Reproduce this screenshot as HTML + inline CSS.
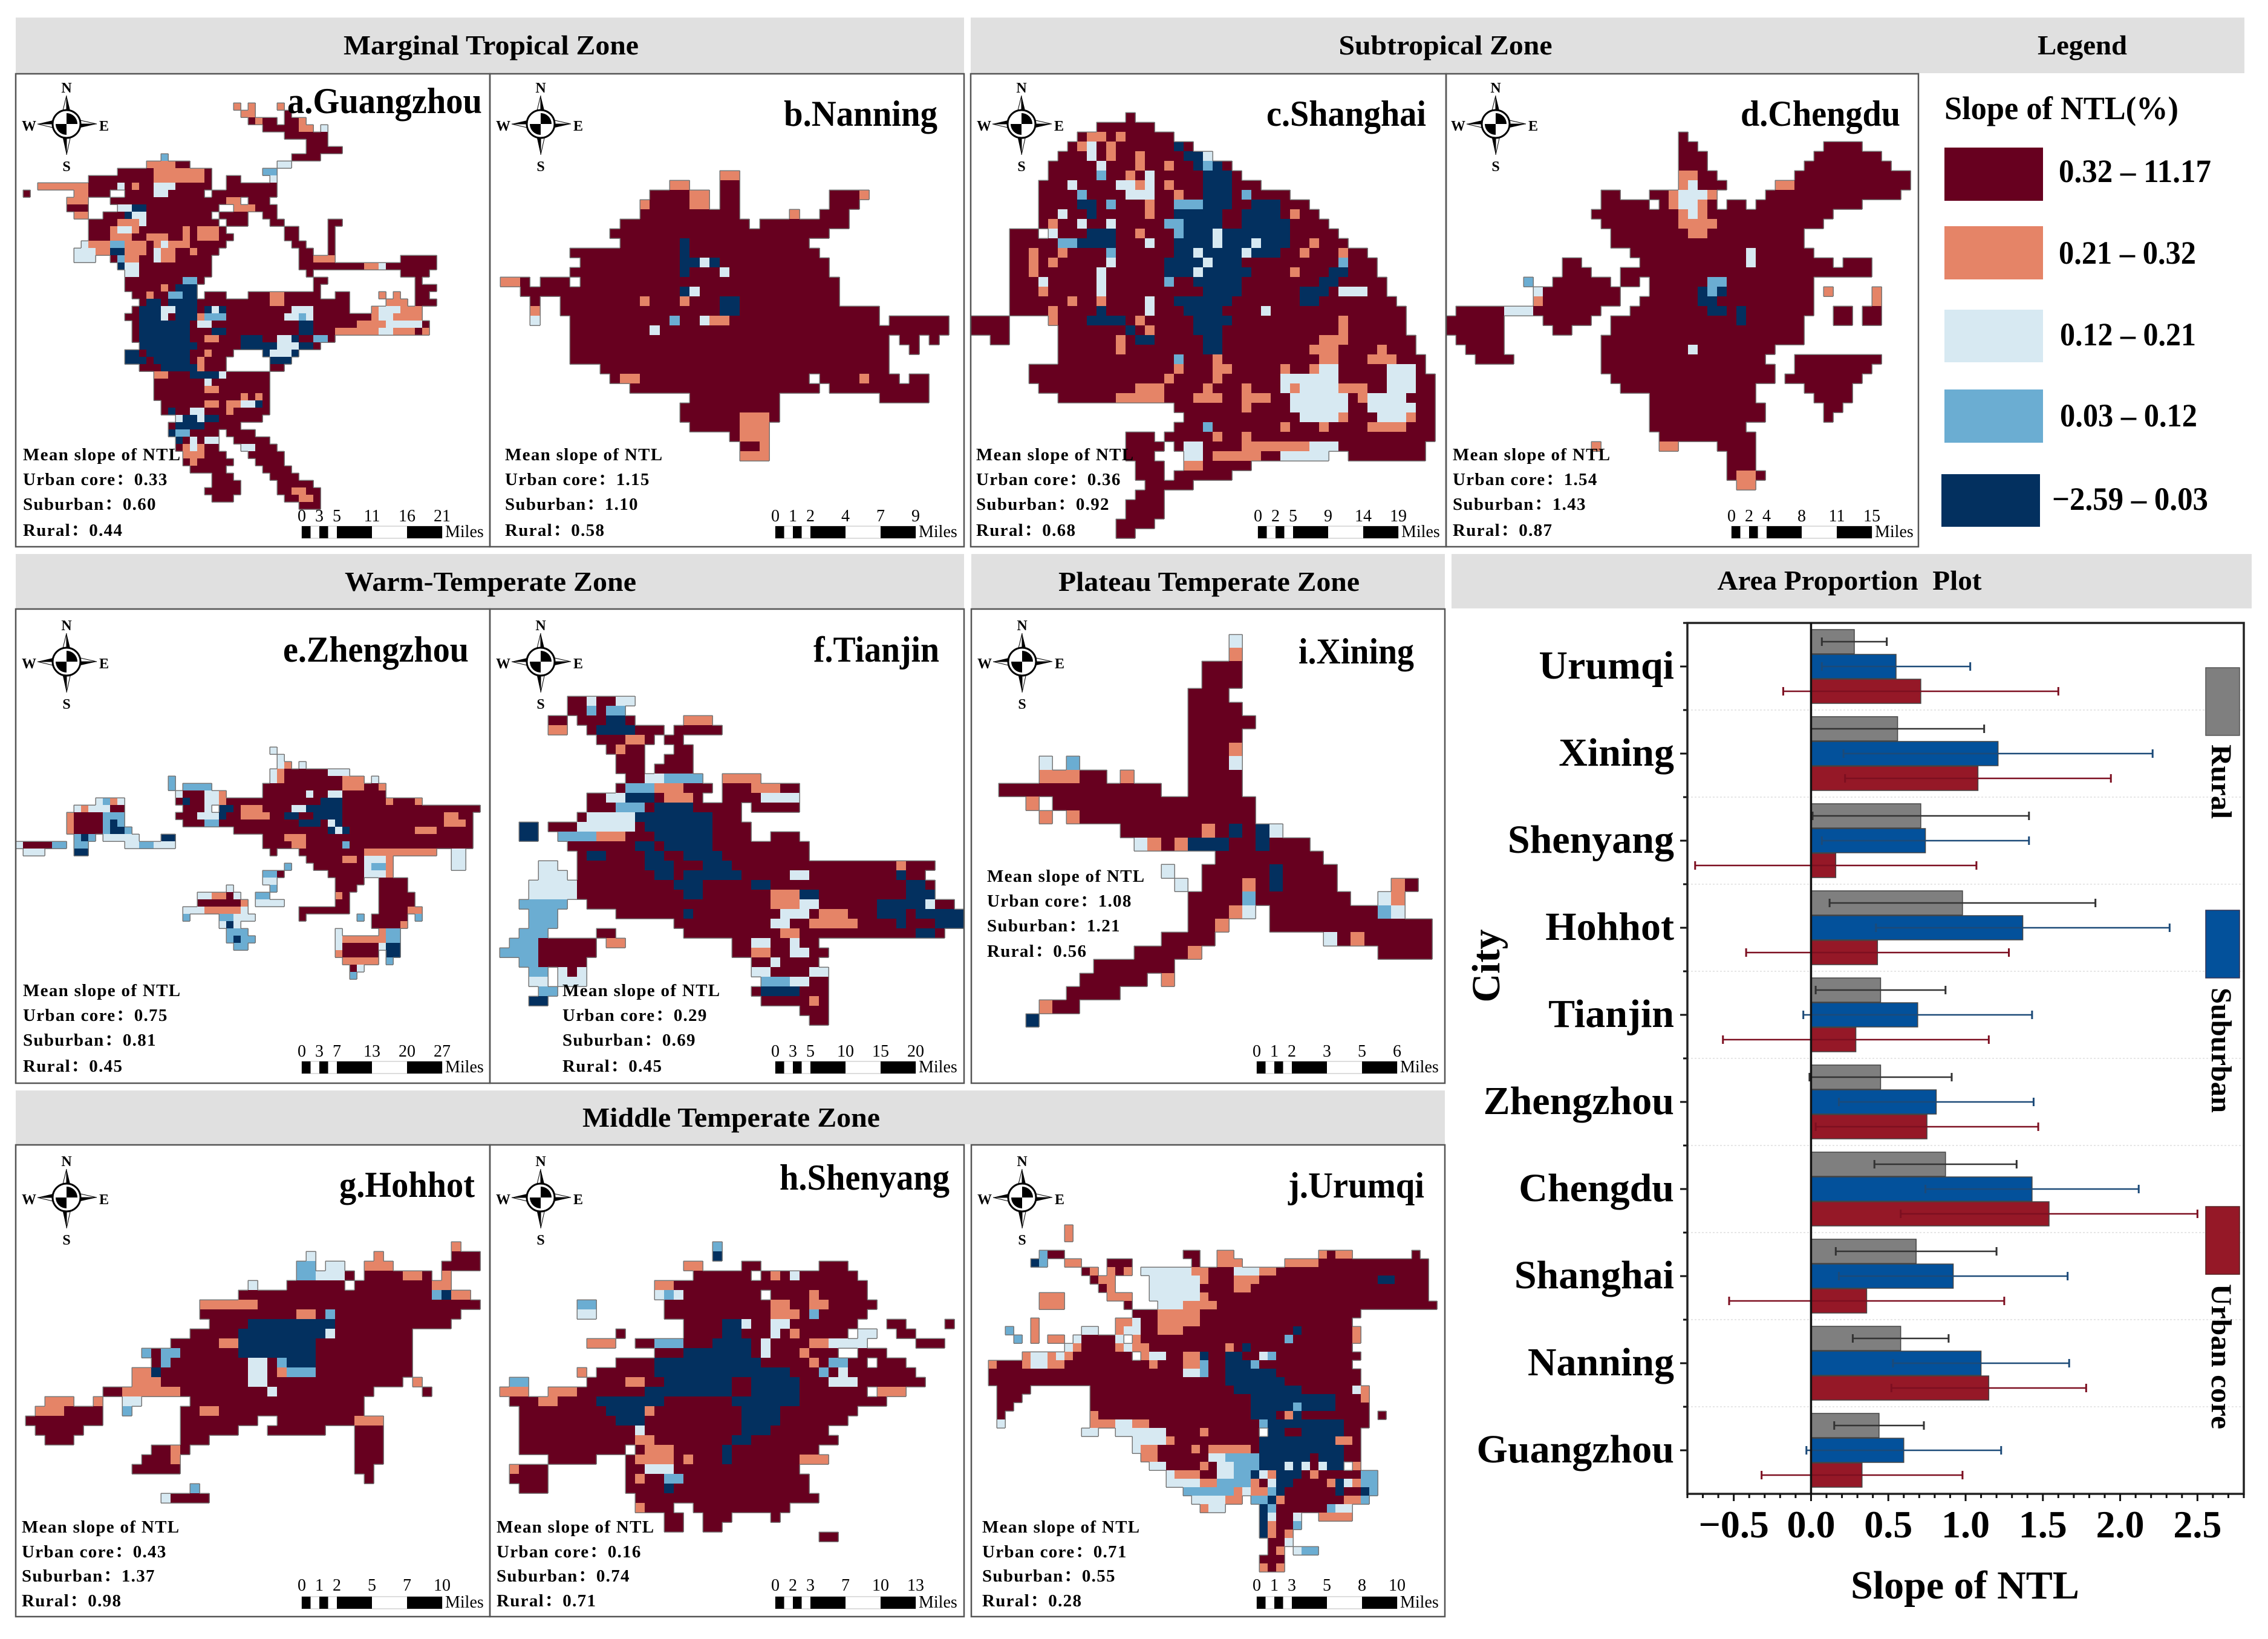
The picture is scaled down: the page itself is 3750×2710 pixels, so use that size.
<!DOCTYPE html>
<html lang="en">
<head>
<meta charset="utf-8">
<title>Slope of NTL by climate zone and city</title>
<style>
html,body{margin:0;padding:0;background:#fff;}
svg{display:block;}
text{font-family:"Liberation Serif","Noto Serif CJK SC",serif;font-weight:bold;fill:#000;}
.hdr{font-size:46px;text-anchor:middle;}
.city{font-size:60px;}
.stat{font-size:29px;letter-spacing:1.3px;}
.sc{font-size:28px;font-weight:normal;text-anchor:middle;}
.mi{font-size:28px;font-weight:normal;}
.cp{font-size:24px;text-anchor:middle;}
.lg{font-size:54px;}
</style>
</head>
<body>
<svg id="figure" xmlns="http://www.w3.org/2000/svg" width="3750" height="2710" viewBox="0 0 3750 2710">
<defs>
<g id="star">
<polygon points="0,-47 -9,-10 0,-10" fill="#fff" stroke="#000" stroke-width="1"/><polygon points="0,-47 9,-10 0,-10" fill="#000"/>
<polygon points="0,51 9,10 0,10" fill="#fff" stroke="#000" stroke-width="1"/><polygon points="0,51 -9,10 0,10" fill="#000"/>
<polygon points="-48,0 -10,-9 -10,0" fill="#000"/><polygon points="-48,0 -10,9 -10,0" fill="#fff" stroke="#000" stroke-width="1"/>
<polygon points="50,0 10,9 10,0" fill="#000"/><polygon points="50,0 10,-9 10,0" fill="#fff" stroke="#000" stroke-width="1"/>
<circle r="23" fill="#fff" stroke="#000" stroke-width="3"/>
<path d="M0,0 L0,-18 A18,18 0 0 1 18,0 Z M0,0 L0,18 A18,18 0 0 1 -18,0 Z" fill="#000"/>
</g>
<g id="sbar">
<rect x="0" y="0" width="232" height="20" fill="#fff" stroke="#bbb" stroke-width="1"/>
<rect x="0" width="14.5" height="20" fill="#000"/><rect x="29" width="14.5" height="20" fill="#000"/><rect x="58" width="58" height="20" fill="#000"/><rect x="174" width="58" height="20" fill="#000"/>
</g>
</defs>
<rect width="3750" height="2710" fill="#fff"/>

<!-- header bands -->
<rect x="26" y="29" width="1568" height="92" fill="#e0e0e0"/>
<rect x="1605" y="29" width="2106" height="92" fill="#e0e0e0"/>
<rect x="26" y="916" width="1568" height="90" fill="#e0e0e0"/>
<rect x="1606" y="916" width="783" height="90" fill="#e0e0e0"/>
<rect x="2400" y="916" width="1323" height="90" fill="#e0e0e0"/>
<rect x="26" y="1803" width="2363" height="89" fill="#e0e0e0"/>

<text class="hdr" x="812" y="90" textLength="488" lengthAdjust="spacingAndGlyphs">Marginal Tropical Zone</text>
<text class="hdr" x="2390" y="90" textLength="353" lengthAdjust="spacingAndGlyphs">Subtropical Zone</text>
<text class="hdr" x="3443" y="90" textLength="148" lengthAdjust="spacingAndGlyphs">Legend</text>
<text class="hdr" x="811" y="977" textLength="482" lengthAdjust="spacingAndGlyphs">Warm-Temperate Zone</text>
<text class="hdr" x="1999" y="977" textLength="498" lengthAdjust="spacingAndGlyphs">Plateau Temperate Zone</text>
<text class="hdr" x="3058" y="975" textLength="437" lengthAdjust="spacingAndGlyphs" xml:space="preserve">Area Proportion  Plot</text>
<text class="hdr" x="1209" y="1863" textLength="492" lengthAdjust="spacingAndGlyphs">Middle Temperate Zone</text>

<g id="maps"></g>

<!-- panel frames -->
<g fill="none" stroke="#555" stroke-width="2.5">
<rect x="26" y="122" width="784" height="782"/>
<rect x="810" y="122" width="784" height="782"/>
<rect x="1605" y="122" width="786" height="782"/>
<rect x="2391" y="122" width="781" height="782"/>
<rect x="26" y="1007" width="784" height="784"/>
<rect x="810" y="1007" width="784" height="784"/>
<rect x="1606" y="1007" width="783" height="784"/>
<rect x="26" y="1893" width="784" height="780"/>
<rect x="810" y="1893" width="784" height="780"/>
<rect x="1606" y="1893" width="783" height="780"/>
</g>

<!-- city titles -->
<text class="city" x="475" y="187" textLength="322" lengthAdjust="spacingAndGlyphs">a.Guangzhou</text>
<text class="city" x="1296" y="208" textLength="254" lengthAdjust="spacingAndGlyphs">b.Nanning</text>
<text class="city" x="2094" y="208" textLength="264" lengthAdjust="spacingAndGlyphs">c.Shanghai</text>
<text class="city" x="2878" y="208" textLength="264" lengthAdjust="spacingAndGlyphs">d.Chengdu</text>
<text class="city" x="468" y="1094" textLength="307" lengthAdjust="spacingAndGlyphs">e.Zhengzhou</text>
<text class="city" x="1345" y="1094" textLength="208" lengthAdjust="spacingAndGlyphs">f.Tianjin</text>
<text class="city" x="2147" y="1097" textLength="191" lengthAdjust="spacingAndGlyphs">i.Xining</text>
<text class="city" x="561" y="1979" textLength="224" lengthAdjust="spacingAndGlyphs">g.Hohhot</text>
<text class="city" x="1289" y="1967" textLength="281" lengthAdjust="spacingAndGlyphs">h.Shenyang</text>
<text class="city" x="2130" y="1980" textLength="225" lengthAdjust="spacingAndGlyphs">j.Urumqi</text>

<!-- stats -->
<g>
<text class="stat" x="38" y="761">Mean slope of NTL</text>
<text class="stat" x="38" y="802">Urban core：0.33</text>
<text class="stat" x="38" y="843">Suburban：0.60</text>
<text class="stat" x="38" y="886">Rural：0.44</text></g>
<g>
<text class="stat" x="835" y="761">Mean slope of NTL</text>
<text class="stat" x="835" y="802">Urban core：1.15</text>
<text class="stat" x="835" y="843">Suburban：1.10</text>
<text class="stat" x="835" y="886">Rural：0.58</text></g>
<g>
<text class="stat" x="1614" y="761">Mean slope of NTL</text>
<text class="stat" x="1614" y="802">Urban core：0.36</text>
<text class="stat" x="1614" y="843">Suburban：0.92</text>
<text class="stat" x="1614" y="886">Rural：0.68</text></g>
<g>
<text class="stat" x="2402" y="761">Mean slope of NTL</text>
<text class="stat" x="2402" y="802">Urban core：1.54</text>
<text class="stat" x="2402" y="843">Suburban：1.43</text>
<text class="stat" x="2402" y="886">Rural：0.87</text></g>
<g>
<text class="stat" x="38" y="1647">Mean slope of NTL</text>
<text class="stat" x="38" y="1688">Urban core：0.75</text>
<text class="stat" x="38" y="1729">Suburban：0.81</text>
<text class="stat" x="38" y="1772">Rural：0.45</text></g>
<g>
<text class="stat" x="930" y="1647">Mean slope of NTL</text>
<text class="stat" x="930" y="1688">Urban core：0.29</text>
<text class="stat" x="930" y="1729">Suburban：0.69</text>
<text class="stat" x="930" y="1772">Rural：0.45</text></g>
<g>
<text class="stat" x="1632" y="1458">Mean slope of NTL</text>
<text class="stat" x="1632" y="1499">Urban core：1.08</text>
<text class="stat" x="1632" y="1540">Suburban：1.21</text>
<text class="stat" x="1632" y="1582">Rural：0.56</text></g>
<g>
<text class="stat" x="36" y="2534">Mean slope of NTL</text>
<text class="stat" x="36" y="2575">Urban core：0.43</text>
<text class="stat" x="36" y="2615">Suburban：1.37</text>
<text class="stat" x="36" y="2656">Rural：0.98</text></g>
<g>
<text class="stat" x="821" y="2534">Mean slope of NTL</text>
<text class="stat" x="821" y="2575">Urban core：0.16</text>
<text class="stat" x="821" y="2615">Suburban：0.74</text>
<text class="stat" x="821" y="2656">Rural：0.71</text></g>
<g>
<text class="stat" x="1624" y="2534">Mean slope of NTL</text>
<text class="stat" x="1624" y="2575">Urban core：0.71</text>
<text class="stat" x="1624" y="2615">Suburban：0.55</text>
<text class="stat" x="1624" y="2656">Rural：0.28</text></g>

<!-- compasses -->
<g transform="translate(110,205)"><use href="#star"/><text class="cp" y="-52">N</text><text class="cp" y="78">S</text><text class="cp" x="-62" y="11">W</text><text class="cp" x="62" y="11">E</text></g>
<g transform="translate(894,205)"><use href="#star"/><text class="cp" y="-52">N</text><text class="cp" y="78">S</text><text class="cp" x="-62" y="11">W</text><text class="cp" x="62" y="11">E</text></g>
<g transform="translate(1689,205)"><use href="#star"/><text class="cp" y="-52">N</text><text class="cp" y="78">S</text><text class="cp" x="-62" y="11">W</text><text class="cp" x="62" y="11">E</text></g>
<g transform="translate(2473,205)"><use href="#star"/><text class="cp" y="-52">N</text><text class="cp" y="78">S</text><text class="cp" x="-62" y="11">W</text><text class="cp" x="62" y="11">E</text></g>
<g transform="translate(110,1094)"><use href="#star"/><text class="cp" y="-52">N</text><text class="cp" y="78">S</text><text class="cp" x="-62" y="11">W</text><text class="cp" x="62" y="11">E</text></g>
<g transform="translate(894,1094)"><use href="#star"/><text class="cp" y="-52">N</text><text class="cp" y="78">S</text><text class="cp" x="-62" y="11">W</text><text class="cp" x="62" y="11">E</text></g>
<g transform="translate(1690,1094)"><use href="#star"/><text class="cp" y="-52">N</text><text class="cp" y="78">S</text><text class="cp" x="-62" y="11">W</text><text class="cp" x="62" y="11">E</text></g>
<g transform="translate(110,1980)"><use href="#star"/><text class="cp" y="-52">N</text><text class="cp" y="78">S</text><text class="cp" x="-62" y="11">W</text><text class="cp" x="62" y="11">E</text></g>
<g transform="translate(894,1980)"><use href="#star"/><text class="cp" y="-52">N</text><text class="cp" y="78">S</text><text class="cp" x="-62" y="11">W</text><text class="cp" x="62" y="11">E</text></g>
<g transform="translate(1690,1980)"><use href="#star"/><text class="cp" y="-52">N</text><text class="cp" y="78">S</text><text class="cp" x="-62" y="11">W</text><text class="cp" x="62" y="11">E</text></g>

<!-- scale bars -->
<g transform="translate(499,870)"><use href="#sbar"/><text class="sc" x="0" y="-8">0</text><text class="sc" x="29" y="-8">3</text><text class="sc" x="58" y="-8">5</text><text class="sc" x="116" y="-8">11</text><text class="sc" x="174" y="-8">16</text><text class="sc" x="232" y="-8">21</text><text class="mi" x="237" y="18">Miles</text></g>
<g transform="translate(1282,870)"><use href="#sbar"/><text class="sc" x="0" y="-8">0</text><text class="sc" x="29" y="-8">1</text><text class="sc" x="58" y="-8">2</text><text class="sc" x="116" y="-8">4</text><text class="sc" x="174" y="-8">7</text><text class="sc" x="232" y="-8">9</text><text class="mi" x="237" y="18">Miles</text></g>
<g transform="translate(2080,870)"><use href="#sbar"/><text class="sc" x="0" y="-8">0</text><text class="sc" x="29" y="-8">2</text><text class="sc" x="58" y="-8">5</text><text class="sc" x="116" y="-8">9</text><text class="sc" x="174" y="-8">14</text><text class="sc" x="232" y="-8">19</text><text class="mi" x="237" y="18">Miles</text></g>
<g transform="translate(2863,870)"><use href="#sbar"/><text class="sc" x="0" y="-8">0</text><text class="sc" x="29" y="-8">2</text><text class="sc" x="58" y="-8">4</text><text class="sc" x="116" y="-8">8</text><text class="sc" x="174" y="-8">11</text><text class="sc" x="232" y="-8">15</text><text class="mi" x="237" y="18">Miles</text></g>
<g transform="translate(499,1755)"><use href="#sbar"/><text class="sc" x="0" y="-8">0</text><text class="sc" x="29" y="-8">3</text><text class="sc" x="58" y="-8">7</text><text class="sc" x="116" y="-8">13</text><text class="sc" x="174" y="-8">20</text><text class="sc" x="232" y="-8">27</text><text class="mi" x="237" y="18">Miles</text></g>
<g transform="translate(1282,1755)"><use href="#sbar"/><text class="sc" x="0" y="-8">0</text><text class="sc" x="29" y="-8">3</text><text class="sc" x="58" y="-8">5</text><text class="sc" x="116" y="-8">10</text><text class="sc" x="174" y="-8">15</text><text class="sc" x="232" y="-8">20</text><text class="mi" x="237" y="18">Miles</text></g>
<g transform="translate(2078,1755)"><use href="#sbar"/><text class="sc" x="0" y="-8">0</text><text class="sc" x="29" y="-8">1</text><text class="sc" x="58" y="-8">2</text><text class="sc" x="116" y="-8">3</text><text class="sc" x="174" y="-8">5</text><text class="sc" x="232" y="-8">6</text><text class="mi" x="237" y="18">Miles</text></g>
<g transform="translate(499,2640)"><use href="#sbar"/><text class="sc" x="0" y="-10">0</text><text class="sc" x="29" y="-10">1</text><text class="sc" x="58" y="-10">2</text><text class="sc" x="116" y="-10">5</text><text class="sc" x="174" y="-10">7</text><text class="sc" x="232" y="-10">10</text><text class="mi" x="237" y="18">Miles</text></g>
<g transform="translate(1282,2640)"><use href="#sbar"/><text class="sc" x="0" y="-10">0</text><text class="sc" x="29" y="-10">2</text><text class="sc" x="58" y="-10">3</text><text class="sc" x="116" y="-10">7</text><text class="sc" x="174" y="-10">10</text><text class="sc" x="232" y="-10">13</text><text class="mi" x="237" y="18">Miles</text></g>
<g transform="translate(2078,2640)"><use href="#sbar"/><text class="sc" x="0" y="-10">0</text><text class="sc" x="29" y="-10">1</text><text class="sc" x="58" y="-10">3</text><text class="sc" x="116" y="-10">5</text><text class="sc" x="174" y="-10">8</text><text class="sc" x="232" y="-10">10</text><text class="mi" x="237" y="18">Miles</text></g>

<!-- map legend -->
<text class="lg" x="3215" y="197" textLength="387" lengthAdjust="spacingAndGlyphs">Slope of NTL(%)</text>
<rect x="3215" y="244" width="163" height="88" fill="#67001f"/>
<rect x="3215" y="374" width="163" height="88" fill="#e58467"/>
<rect x="3215" y="512" width="163" height="87" fill="#d7e9f2"/>
<rect x="3215" y="644" width="163" height="88" fill="#6badd2"/>
<rect x="3210" y="784" width="163" height="87" fill="#03305f"/>
<text class="lg" x="3404" y="301" textLength="252" lengthAdjust="spacingAndGlyphs">0.32 – 11.17</text>
<text class="lg" x="3404" y="436" textLength="227" lengthAdjust="spacingAndGlyphs">0.21 – 0.32</text>
<text class="lg" x="3406" y="571" textLength="225" lengthAdjust="spacingAndGlyphs">0.12 – 0.21</text>
<text class="lg" x="3406" y="705" textLength="227" lengthAdjust="spacingAndGlyphs">0.03 – 0.12</text>
<text class="lg" x="3393" y="843" textLength="258" lengthAdjust="spacingAndGlyphs">−2.59 – 0.03</text>

<!-- bar chart -->
<g id="chart"></g>
<text x="3249" y="2643" font-size="66" text-anchor="middle">Slope of NTL</text>
<text transform="translate(2479,1597) rotate(-90)" font-size="66" text-anchor="middle">City</text>
<rect x="3647" y="1104" width="56" height="112" fill="#7f7f7f" stroke="#555" stroke-width="1.5"/>
<rect x="3647" y="1505" width="56" height="112" fill="#03519b" stroke="#335" stroke-width="1.5"/>
<rect x="3647" y="1995" width="56" height="112" fill="#951827" stroke="#522" stroke-width="1.5"/>
<text transform="translate(3657,1231) rotate(90)" font-size="48" textLength="123" lengthAdjust="spacingAndGlyphs">Rural</text>
<text transform="translate(3657,1633) rotate(90)" font-size="48" textLength="207" lengthAdjust="spacingAndGlyphs">Suburban</text>
<text transform="translate(3657,2123) rotate(90)" font-size="48" textLength="240" lengthAdjust="spacingAndGlyphs">Urban core</text>
</svg>

<script>
// ---------- bar chart data ----------
const cities = ["Urumqi","Xining","Shenyang","Hohhot","Tianjin","Zhengzhou","Chengdu","Shanghai","Nanning","Guangzhou"];
const ruralValues = [0.28,0.56,0.71,0.98,0.45,0.45,0.87,0.68,0.58,0.44];
const suburbanValues = [0.55,1.21,0.74,1.37,0.69,0.81,1.43,0.92,1.10,0.60];
const urbanValues = [0.71,1.08,0.16,0.43,0.29,0.75,1.54,0.36,1.15,0.33];
const ruralErrors = [0.21,0.56,0.70,0.86,0.42,0.46,0.46,0.52,0.31,0.29];
const suburbanErrors = [0.48,1.00,0.67,0.95,0.74,0.63,0.69,0.74,0.57,0.63];
const urbanErrors = [0.89,0.86,0.91,0.85,0.86,0.72,0.96,0.89,0.63,0.65];
const xTickValues = [-0.5,0,0.5,1,1.5,2,2.5];
const xTickLabels = ["−0.5","0.0","0.5","1.0","1.5","2.0","2.5"];

// ---------- map grids: each row lists column spans with a class; later spans overwrite earlier ones ----------
// # 0.32–11.17   o 0.21–0.32   l 0.12–0.21   m 0.03–0.12   n −2.59–0.03
const gridGuangzhou = [
"30o 32o 36o","31o 32o 37#","32-35# 33o 37-38# 39o","34-36# 37-38# 39-40o 42l","37-38# 39-42#","40-42#","40-43# 44#","38-39# 40-41# 20m",
"18-23# 18-21o 36-37l","14-26# 19-21o 22-25o 34-35m","10-26# 19-21o 22-25o 29-30# 35l","3-9o 10-26# 14l 16o 19-20o 19-21l 29-33# 34-35#",
"1# 8-9o 10-12# 15-25# 19-20l 27-35#","7-9o 13-25# 26-28# 29-30o 32-34#","7-9# 14-26# 15-17n 14-15l 26-27# 30-32o 33-35#","8-9o 12-26# 15-17n 16-17l 28-31# 34-35#",
"10-27# 16-17l 14-16o 29-31# 35-36# 43-44#","10-28# 13-16o 14-15l 23o 25-27o 37-38# 43#","10-29# 13-15o 18-20o 23o 25-27o 37-38# 43#","9l 10-28# 10-14o 13-14m 15-17o 19-22o 20l 23o 38-39# 43#",
"8-10l 11-12o 13-27# 13-15n 15-17o 19-21o 19l 24o 39-40# 43#","8-10l 13-26# 14-15m 15-16o 19-20l 20-21o 39-43# 41-43o 53-57#","14-26# 14-15n 15-16l 39-41# 42-43# 44-52# 48-49o 50l 53-57#","15-26# 15-16l 40# 53-56#",
"15-25# 23-24m 41-42# 55#","15-24# 20o 22-24n 41# 55-56# 57#","16-24# 18o 21-24m 23-24n 26-28# 32-41# 35-36o 44-45# 50o 52o 55-56#","17-45# 18-19n 21-24n 35-36o 51-53o 55-57#",
"16-45# 17-19n 20-21l 22-24n 26-28n 27l 38-39l 39-40l 49-55o 50-52l","15-48# 17-19n 20l 22-24n 25o 26-28m 37-40l 39m 49-55o 50-51l 53-54o","16-56# 17-19n 20-23n 25-26l 39-40n 47-48o 49-52o 51-52l 53-55l","16-47# 17-20n 21-23n 27-28n 39-40n 44-47o 48-56o 50-51l 55#",
"16-43# 17-21n 22-23n 26-27o 31-33n 36-38l 38n 41-42m","17-41# 17-22n 23-24n 31-35n 36-38l 39-40n","15-29# 15-16n 18-23n 26o 34-38n 35-37l","15-28# 15-17n 19-23n 25o 35-37n",
"17-28# 20-24n 25o 35-36#","19-34# 19-20o 24-25n 26-28l 26-27n","19-34# 26l","19-34# 26-27o","19-34# 31o 33o","20-34# 26-27o 29-32l 29-30o 33n","20-34# 21n 24-25l 29o",
"22-33# 22-25l 23-24n 26-27n","21-30# 22-24n 25n","21-27# 21n 22-23m 29-32#","22-27# 22n 24l 26-27l 30-34#","22-27# 23-25o 24l 31-35# 31-32l","23-28# 23-25o 32-36#","23-29# 24o 33-36#","24-28# 34-37#",
"27-29# 35-38#","27-30# 36-40#","26-30# 36-41# 38-39o","27-29# 37-41# 39-40o","39-41#"];

const gridNanning = [
"23-24o","18-19o 23-24#","16-19# 20-21o 23-24# 34-36# 37o","15-20# 15o 20-21o 23-24# 34-36#","15-21# 22-24# 30o 33-35#",
"13-21# 22-25# 27-28# 28-35#","12-33# 26#","13-31# 19n","9-32# 19n 8-8#","9-33# 19-20n 21l 22n","8-33# 19n 23l",
"1-2o 3# 5-7# 9-34#","3-7# 8-34# 19n 20l","4# 7-34# 15o 19o 23-24n","4o 7-38# 23-24n","4l 8-38# 40-45# 18m 21l 22-23o",
"8-45# 16l","8-39# 41-42# 44#","8-39# 42#","8-39#","11-39#","12-31# 33-40# 13-14o 37o 42-43#","14-32# 34-43#","20-28# 39-43#",
"19-28#","19-20# 21-28# 25-27o","20-27# 25-27o","24-27# 25-27o","25-27o 25-26#","25-27o"];

const gridShanghai = [
"16#","13-18#","11-20# 12-13o 15o","10-22# 11-12o 12l 14o 21n","9-24# 12l 14o 17o 22-23n 24l","8-26# 13l 17o 20o 23-25n 24m",
"8-27# 13m 16o 18l 24-26n","7-29# 10l 15-18l 17o 20o 24-26n","7-32# 11m 16-18l 21o 24-26n 28m","7-34# 11-12n 14m 18o 21-23m 24-26n 29-31n",
"7-35# 9l 12n 18o 21-25n 28-31n 33o","7-36# 8o 11l 14l 20-21m 22-25n 28-32n","4-6# 8-37# 8l 12-14n 17o 21m 22-32n 25l",
"4-38# 9-10m 11-14n 18l 21-32n 25l 29l 35o","4-40# 6o 9o 14m 21-31n 23l 28l 34o 38o","4-41# 6o 8o 14l 20-27n 24l 38m",
"4-41# 6o 13l 20-28n 23l 33o 37-38n","4-42# 7l 13l 20m 23-27n 36-37n","4-42# 7o 13l 24-27n 34-36n 38-40l","4-43# 10o 13o 18l 21-26n 34-35n",
"4-44# 8o 13n 18l 22-25n 30l","0-3# 8-44# 8o 12-15n 17o 23-26n 38o","0-3# 9-44# 16n 18o 23-25n 38o","2-3# 9-45# 15o 17-18n 24-25n 36-38o",
"9-45# 15o 24-25n 35-37o 42o","9-46# 21m 25o 36-37o 41-43o","6-8# 9-46# 21o 25-26o 32o 35-36o 36-37l 43-45l","6-47# 20o 25o 32-35l 35-37l 43-45l",
"7-47# 17-19o 24o 28o 32-37l 33o 38-40o 43-45l","9-47# 15-19o 23-25o 33-38l 40-41o 41-44l 28-30o","21-47# 28o 33-38l 41-45l","22-47# 34-37l 38o 42-45l 45o",
"21-47# 24m 32o 36o 41-44o","20-47# 16-18# 25o 28o","16-19# 21-34# 22-23l 28-32o 33-34o 35-37l 38-46# ","16-18# 22-31# 22-23l 25-29o 32-36l 39-46#",
"17-19# 22-28# 22-23o","17-19# 21-26#","18-19# 20-22#","17-19#","16-19#","16-19#","15-18#","15-16#"];

const gridChengdu = [
"24#","24-25# 39-42#","24-26# 38-44#","24-26# 37-45#","24-27# 24-25o 36-47#","24-28# 24-25o 25l 34-47# 34-35o","16-17# 21-22# 23-27o 24-26l 33-46#",
"16-20# 22-27# 23-26o 24-25l 29-30# 32-42#","15-39# 24-26o 25l","16-38# 24-27o","17-36# 25-26o","17-36#","19-37# 31l","12-13# 20-37# 31l 38-39# 41-43#",
"12-14# 18-19# 20-38# 39-43#","8m 11-16# 18-19# 21-37# 27-28m","9l 10-17# 21-37# 26n 27m 28n 39o 44o","9o 10-17# 20-37# 26-27n 44o",
"1-5# 6-8l 9-15# 19-37# 27-28n 30n 40-41# 43-44#","0-5# 10-14# 17-36# 30n 40-41# 43-44#","0-5# 11-12# 17-36#","1-5# 16-36#","2-5# 16-33# 25l",
"3-6# 16-32# 36-44#","16-33# 36-43#","17-33# 35-42#","18-31# 37-41#","21-31# 38-41#","21-32# 39-40#","21-32# 39#","21-30#","22-26# 27-31#",
"15o 22-23o 28-31#","29-31#","29-31#","29-32# 30-31o","30-31o"];

const gridZhengzhou = [
"35l","36l","36-37l 37o 39l","35-36l 36o 37-44# 43-45l","21m 35l 36o 37-46# 45-47o 49l","21m 23-26m 34-49# 45-47o 50o","22-25# 22l 26-27l 28o 34-50# 40l 43-44l",
"11-14l 12m 13o 22-25# 23n 26-27l 28o 29-33# 34-51# 42-44n 51o 52-54# 55o","8-12l 9o 13-14# 23-25# 26l 28-29n 30-63# 31-33o 40-44n 38-39l",
"7o 8-11# 12-14m 22-25# 25-27l 28n 29-62# 31-34o 37-38n 41-44n 59-60o","7o 8-11# 12-14m 13n 23-25# 26-27m 28# 29-62# 39-40n 41n 43l 44n 59-61o","7o 8-11# 12-15m 13-14n 30-62# 41-42# 43-45n 44l 55-57o",
"8-10m 9n 12-16l 20-21n 34-62# 37-39o","0-4l 1-4# 5-6m 8-9m 15-21l 17-18m 34-62# 38-39o 45m","1-3l 8-9n 35# 39-47# 48-50o 51-52o 53-57o 60-61l","40-47# 45-46o 48-51l 51o 60-61l",
"37m 41-47# 48-50l 49-50m 51o 60-61l","34-35m 36# 43-47# 48-50l 51o","34-35l 44-47# 50-53#","29l 35m 44-46# 50-53#","25-30l 27-29o 29# 33-34m 44-45o 45# 50-54#","25-30# 31o 33-36l 44-45# 50-54#",
"23-31l 26-30o 27-28o 39-45# 50-53# 54-55o","23m 28-29m 30-32l 39# 47m 49-53# 55m","28-30l 29n 49-52# 53o","29-31m 44l 50-51o 51m 52m","29-32m 30n 44-45l 45-49o 50o 51-52m","30-31m 44-45l 45-49# 50l 51-52n",
"44-45o 45-49# 51-52n","45o 46-49o 51m","46# 47l","46m"];

const gridTianjin = [
"8-14# 10l 13-14l","8-13# 10m 12-13m","6-7# 9-14# 12-13n 20-22o","6-7o 10-17# 11-14n 19-23#","11-16# 14-15o 18-19#","12-15# 13o 19-20#","13-15# 18-20#","13-15# 17-20#",
"14-21# 18-21m 16-17l 24-27o","13-22# 14-16m 17-19o 24-31# 27-29o","10-21# 14-16n 12-13l 18-20o 24-31l 24-27#","10-25# 13-15m 17-20n 27-31#","9-25# 10-14l 15-22n",
"3-4n 6-26# 9-14l 16-22n","3-4n 7-26# 7-10m 11-13o 17-22n 29-31#","8-32# 15-16n 18-22n","9-32# 10-11n 16-17n 20-23n","5-6l 9-45# 16-18n 22-24n 42o","5-7l 9-44# 17-18n 20-25n 31-32l 42n",
"4-8l 9-45# 19-21n 27-28n 43-44n","4-8l 9-45# 20-21n 29-31o 32-33n 43-45n","3-7m 10-47# 29-31o 32-33l 40-44n 45l","4-6m 13-48# 20n 30-32l 34-36o 40-42n 44-48n","4-6m 19-48# 29-30l 33-37o 42n 46-48n",
"3-5m 11-12# 20-46# 30-31o 44-45n","2-5m 5-10# 12-13o 25-33# 27-28l 31l","1-4m 5-10# 25-34# 27-28o 31-32l","3-4m 5-9# 27-33# 28-31# 29l","4-5m 7-9l 8# 27-34l 29-32#","4-5l 7-9l 28-34# 28-30m 31-32l",
"5-6m 27-34# 28-31n","4-5n 28-34# 33o","32-34#","33-34#"];

const gridXining = [
"19l","19o","17-19#","17-19#","16-18#","16-19#","16-20#","16-19#","16-18# 19o","5l 7m 16-18# 19l","5-7o 8-9# 11o 16-19#","2-13# 16-19#","4o 6-20#","5o 7o 8-20#",
"11-20# 17o 19n 21n 22l","12l 13o 14# 15o 16-18n 19-20# 21n 22-24#","18-25#","14l 17-21# 22n 23-26#","15l 17-19# 20o 21# 22n 23-26# 31o 32#","16-19# 20m 21-27# 30l 31o",
"16-18# 19o 20l 22-29# 30m 31l","16-17# 18o 22-33#","14-17# 26l 27-33# 28o","12-15# 16o 30-33#","9-14#","8-12# 14o","7-10#","5o 6-7#","4n"];

const gridHohhot = [
"45o","30l 37o 45-47#","29-30m 32-33l 36-38o 44-47#","29-30m 31-33l 34# 36-39# 40-41o 42# 44o","24l 28-33# 35-42# 43-44o","23-33# 34-42# 43m 44n 45-46o","19-22o 23-45# 23-24o 46-47#",
"19-40# 29-30o 32m 41-45#","20-41# 24-32n 42-44#","18-40# 23-32n 32l","16-40# 23-28n 21-22o 29-30n","13m 14-40# 15-16m 23-27n 28-30n","14-40# 15m 24-25l 27-28m 28-30n","12-13o 14-40# 14n 24-25l 28-30m 27o",
"12-14o 15-39# 24-25l 41o","9-11# 11-16o 17-36# 26l 42#","3-5o 8o 11-12l 18-35#","2-8# 2-4o 6-7# 11m 17-35# 19-20o","1-8# 17-24# 27-35# 35-37o","2-6# 17-22# 26-31# 35-37#","3-5# 17-19# 35-37#",
"14-17# 16o 35-37#","13-16# 16o 35-37#","12-16# 35-36#","36#","18m","15-19# 15l"];

const gridShenyang = [
"23m","23n","20-21o 26-27# 34-36#","21-26# 28-37# 29o 31l","17-18o 19-27# 28-38#","17-19l 18m 20-27# 29-38# 33o","9-10m 18-28# 29-39# 29-30o 33-34o","9-10l 18-38# 29-31o 33m",
"20-37# 24-25n 26l 29-30l 41-42# 47#","13# 20-36# 24-25n 29l 31o 38-39l 42-43#","10-12o 15-16# 17-20m 20-36# 23-26n 28l 33-34o 35-38l 44-46#","17-35# 20-26n 28l 32o 38-40#","14# 13-38# 17-27n 33o 35-36m 40-42#",
"9o 11-14# 13-43# 17-26n 27-30n 34m 36l","2-3m 10-44# 14-15o 18-24n 27-31n 35-37l","1-3o 6-8o 9-38# 16-24n 27-31n 40-42o","2-40# 5-6o 11-17n 25-31n","3-37# 12-16n 26-29n 16o",
"3-36# 13-15n 26-29n","3-34# 26-28n 15l","3-14# 15-35# 15-16o 25-26n","3-13# 15-33# 16-18o 24n","6-10# 14-31# 15-18o 24n 20o 32-34o","2-5# 2o 14-31# 16-18l","2-5# 14-32# 18-19m 15o","3-5# 14-32# 18n",
"15-33#","15-18# 15o 21-26# 27-30#","18-19# 22-24# 29#","18-19# 22-23#","34-35#"];

const gridUrumqi = [
"11o","11o","","8m 9-10# 25-26# 29-30o 41-44o 42# 52#","7n 8m 11-12o 16-18# 26# 29-31o 37-40o 41-53#","13# 14o 16o 17# 18o 20-26l 26-27o 28-30# 31-33l 34-36o 36-53#",
"14# 15-16o 21-26l 27o 28-30# 31-33o 34-53# 48-49n","15# 16o 21-26l 27# 28-30# 31-32o 33-53#","8-10o 16-18o 21-26l 27o 28-53#","8-10o 18# 22-24l 25-28o 29-54#","19-21# 22-23o 24-26o 27-45#",
"7o 17-18o 19l 20-21# 22-26o 27-44#","4m 7o 13-14l 17-18o 18-19l 20-24# 22-24o 25-44# 38n 45o","5m 7o 9-10o 12l 13-16# 17l 19o 20-44# 37m 45o","11l 12o 13-16# 17o 18l 19-20o 21-44# 30o 32n",
"6o 7-8l 9o 10l 11o 12-18# 20o 21-22l 23-45# 25-26o 27n 30-31n 34-34l 35m","2o 3-5# 6o 7-8l 9-10o 11-44# 21o 25-26o 27m 30-33n 33m","2-45# 25-26l 27m 30-35n","2-45# 30-36n","3-6# 14-45# 31-38n 45l 46o",
"3-5# 14-46# 33-41n 42n 46o","3-4# 14-46# 33-37n 38m 39-42n","3# 14-46# 14o 33-35n 37o 38n 48#","3l 14-16o 17-18l 19-20o 21-33# 34m 35-43n 44-46#","13-14l 17-22l 23-33# 27o 35-43n 37-38# 44-45#",
"19-22l 23o 24-33# 34-43n 43-44o 45#","19l 20-21o 22-27# 26o 28-32o 33# 34-43n 44-45#","20-21o 22-28# 28-30l 30-33m 34-43n 40# 44-45#","21-22l 23-26# 27o 28# 29-31l 31-33m 34-43n 37l 39l 40# 41l 45o",
"23-24l 24-26o 27-28# 29-30l 31-33m 33n 34l 35o 36-38n 39# 40o 41-45# 46-47m","23-26l 27-28o 29-32m 33o 34# 35l 36-37n 38-42# 42o 43n 44l 45o 46-47m","25-30m 31-32o 32l 33-34o 35m 36n 37-45# 43n 46n 47m",
"26-31l 30-31o 33-34m 35n 36o 37-44# 44-45o 46m","27o 28-29l 34n 35m 36-37# 39o 38-41# 42m 43-44l","34n 35l 36-37# 38l 41-44o","34n 35o 36-37# 38m","34n 35o 36-37o 36#","35-37# 37l","35-36# 36o 38-39l 39-40m","34-36#","34o 35# 36o"];

// ---------- drawing ----------
const SVGNS = "http://www.w3.org/2000/svg";
const classColors = {"#":"#67001f","o":"#e58467","l":"#d7e9f2","m":"#6badd2","n":"#03305f"};

function mapCellX(x0, cw, col){ return Math.round(x0 + col * cw); }
function mapCellY(y0, ch, row){ return Math.round(y0 + row * ch); }

function drawMap(name, rows, firstRow, x0, y0, cw, ch){
  const g = document.createElementNS(SVGNS, "g");
  
  
  g.setAttribute("shape-rendering", "crispEdges");
  const occupied = {};
  rows.forEach(function(rowText, i){
    const cells = {};
    rowText.split(" ").forEach(function(token){
      const m = token.match(/^(\d+)(?:-(\d+))?([#olmn])$/);
      if(!m) return;
      const a = +m[1], b = m[2] === undefined ? a : +m[2];
      for(let c = a; c <= b; c++) cells[c] = m[3];
    });
    const row = firstRow + i;
    occupied[row] = cells;
    const cols = Object.keys(cells).map(Number).sort(function(p,q){return p-q;});
    let k = 0;
    while(k < cols.length){
      let e = k;
      while(e + 1 < cols.length && cols[e+1] === cols[e] + 1 && cells[cols[e+1]] === cells[cols[k]]) e++;
      const r = document.createElementNS(SVGNS, "rect");
      const xa = mapCellX(x0, cw, cols[k]), xb = mapCellX(x0, cw, cols[e] + 1);
      const ya = mapCellY(y0, ch, row), yb = mapCellY(y0, ch, row + 1);
      r.setAttribute("x", xa);
      r.setAttribute("y", ya);
      r.setAttribute("width", xb - xa);
      r.setAttribute("height", yb - ya);
      r.setAttribute("fill", classColors[cells[cols[k]]]);
      
      
      g.appendChild(r);
      k = e + 1;
    }
  });
  // boundary line around the occupied cells
  let d = "";
  Object.keys(occupied).forEach(function(rowKey){
    const row = +rowKey, cells = occupied[row];
    const up = occupied[row - 1] || {}, down = occupied[row + 1] || {};
    Object.keys(cells).forEach(function(colKey){
      const c = +colKey;
      const xa = mapCellX(x0, cw, c), xb = mapCellX(x0, cw, c + 1);
      const ya = mapCellY(y0, ch, row), yb = mapCellY(y0, ch, row + 1);
      if(!up[c]) d += "M" + xa + " " + ya + "H" + xb;
      if(!down[c]) d += "M" + xa + " " + yb + "H" + xb;
      if(!cells[c - 1]) d += "M" + xa + " " + ya + "V" + yb;
      if(!cells[c + 1]) d += "M" + xb + " " + ya + "V" + yb;
    });
  });
  const outline = document.createElementNS(SVGNS, "path");
  outline.setAttribute("d", d);
  outline.setAttribute("fill", "none");
  outline.setAttribute("stroke", "#777");
  outline.setAttribute("stroke-width", "1.5");
  
  
  g.appendChild(outline);
  document.getElementById("maps").appendChild(g);
}

drawMap("guangzhou", gridGuangzhou, 4, 26, 122, 12, 12);
drawMap("nanning", gridNanning, 10, 810, 122, 16.5, 16);
drawMap("shanghai", gridShanghai, 4, 1605, 122, 16, 16);
drawMap("chengdu", gridChengdu, 6, 2391, 122, 16, 16);
drawMap("zhengzhou", gridZhengzhou, 19, 26, 1007, 12, 12);
drawMap("tianjin", gridTianjin, 9, 810, 1007, 16, 16);
drawMap("xining", gridXining, 0, 1606, 1048.5, 22.4, 22.4);
drawMap("hohhot", gridHohhot, 10, 26, 1893, 16, 16);
drawMap("shenyang", gridShenyang, 10, 810, 1893, 16, 16);
drawMap("urumqi", gridUrumqi, 0, 1606, 2024.5, 14, 14);

// chart axes
const plotLeft = 2790, plotRight = 3710, plotTop = 1030, plotBottom = 2470;
const xMin = -0.8, xMax = 2.8;
function xScale(v){ return plotLeft + (v - xMin) / (xMax - xMin) * (plotRight - plotLeft); }
function bandTop(i){ return plotTop + i * (plotBottom - plotTop) / cities.length; }
function bandMid(i){ return bandTop(i + 0.5); }

const chart = document.getElementById("chart");
function add(tag, attrs, parent){
  const el = document.createElementNS(SVGNS, tag);
  for(const k in attrs) el.setAttribute(k, attrs[k]);
  (parent || chart).appendChild(el);
  return el;
}

// separators and y axis ticks
cities.forEach(function(city, i){
  if(i > 0){
    const sep = add("line", {x1:plotLeft, x2:plotRight, y1:bandTop(i), y2:bandTop(i), stroke:"#ddd", "stroke-width":1.5, "stroke-dasharray":"3 3"});
    
    
  }
  const minor = add("line", {x1:plotLeft - 7, x2:plotLeft, y1:bandTop(i), y2:bandTop(i), stroke:"#111", "stroke-width":3});
  
  
  const major = add("line", {x1:plotLeft - 12, x2:plotLeft, y1:bandMid(i), y2:bandMid(i), stroke:"#111", "stroke-width":3});
  
  
  const label = add("text", {x:2768, y:bandMid(i) + 20, "font-size":66, "text-anchor":"end"});
  label.textContent = city;
  
  
});

const seriesList = [
  {key:"rural", values:ruralValues, errors:ruralErrors, fill:"#7f7f7f", line:"#333333", offset:-41},
  {key:"suburban", values:suburbanValues, errors:suburbanErrors, fill:"#03519b", line:"#1c4a78", offset:0},
  {key:"urban", values:urbanValues, errors:urbanErrors, fill:"#951827", line:"#7d0f20", offset:41}
];
const barHeight = 40;
seriesList.forEach(function(s){
  s.values.forEach(function(v, i){
    const cy = bandMid(i) + s.offset;
    const x0 = xScale(0), x1 = xScale(v);
    const bar = add("rect", {x:Math.min(x0,x1), y:cy - barHeight/2, width:Math.abs(x1-x0), height:barHeight, fill:s.fill, stroke:"#444", "stroke-width":1.5});
    
    
  });
});
seriesList.forEach(function(s){
  s.values.forEach(function(v, i){
    const cy = bandMid(i) + s.offset;
    const lo = xScale(v - s.errors[i]), hi = xScale(v + s.errors[i]);
    const line = add("line", {x1:lo, x2:hi, y1:cy, y2:cy, stroke:s.line, "stroke-width":2.5});
    
    
    [lo, hi].forEach(function(px){
      const cap = add("line", {x1:px, x2:px, y1:cy - 7, y2:cy + 7, stroke:s.line, "stroke-width":3});
      
      
    });
  });
});

// frame and zero line
const frame = add("rect", {x:plotLeft, y:plotTop, width:plotRight - plotLeft, height:plotBottom - plotTop, fill:"none", stroke:"#222", "stroke-width":3.5});


const zero = add("line", {x1:xScale(0), x2:xScale(0), y1:plotTop, y2:plotBottom, stroke:"#111", "stroke-width":3.5});



// x axis ticks: minor every 0.1 across the whole axis, major at the labelled values
for(let n = Math.ceil(xMin * 10); n <= Math.floor(xMax * 10); n++){
  if(n % 5 === 0) continue;
  const m = add("line", {x1:xScale(n / 10), x2:xScale(n / 10), y1:plotBottom, y2:plotBottom + 7, stroke:"#111", "stroke-width":3});
  
  
}
xTickValues.forEach(function(v, i){
  const t = add("line", {x1:xScale(v), x2:xScale(v), y1:plotBottom, y2:plotBottom + 12, stroke:"#111", "stroke-width":3});
  
  
  const l = add("text", {x:xScale(v), y:2542, "font-size":64, "text-anchor":"middle"});
  l.textContent = xTickLabels[i];
  
  
});
</script>
</body>
</html>
